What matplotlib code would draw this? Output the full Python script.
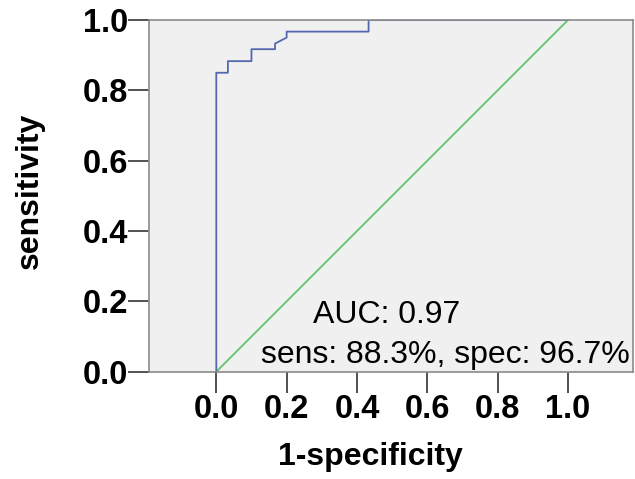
"""
ROC curve: sensitivity vs 1-specificity.
"""

import matplotlib.pyplot as plt

# ROC step points
fpr = [0.0, 0.0, 0.033, 0.033, 0.100, 0.100, 0.167, 0.167, 0.200, 0.200, 0.433, 0.433, 1.0]
tpr = [0.0, 0.850, 0.850, 0.883, 0.883, 0.917, 0.917, 0.933, 0.950, 0.967, 0.967, 1.0, 1.0]

ref_x = [0.0, 1.0]
ref_y = [0.0, 1.0]

ticks = [0.0, 0.2, 0.4, 0.6, 0.8, 1.0]
tick_labels = ["0.0", "0.2", "0.4", "0.6", "0.8", "1.0"]

auc_text = "AUC: 0.97"
cut_text = "sens: 88.3%, spec: 96.7%"


def main():

    plt.rcParams["font.family"] = ["Liberation Sans", "DejaVu Sans"]

    W, H = 635, 479
    fig = plt.figure(figsize=(W / 100, H / 100), dpi=100)

    left, right, top, bottom = 148.7, 633.0, 20.0, 371.7
    ax = fig.add_axes([left / W, 1 - bottom / H, (right - left) / W, (bottom - top) / H])

    ax.set_facecolor("#f0f0f0")

    ax.plot(ref_x, ref_y, color="#62c46e", linewidth=1.3)
    ax.plot(fpr, tpr, color="#5468b0", linewidth=1.3)

    ax.set_xlim(-0.1922, 1.1848)
    ax.set_ylim(0, 1)

    ax.set_xticks(ticks)
    ax.set_xticklabels(tick_labels)
    ax.set_yticks(ticks)
    ax.set_yticklabels(tick_labels)

    for lab in ax.get_xticklabels() + ax.get_yticklabels():
        lab.set_fontweight("bold")
        lab.set_fontsize(23.5)

    ax.tick_params(axis="both", direction="out", length=15, width=1.2, color="#333333")
    ax.tick_params(axis="x", pad=1)
    ax.tick_params(axis="y", pad=0)

    for s in ax.spines.values():
        s.set_color("#8a8a8a")
        s.set_linewidth(1.2)

    ax.text((387 - left) / (right - left), 1 - (315 - top) / (bottom - top),
            auc_text, transform=ax.transAxes, ha="center", va="center", fontsize=23)
    ax.text((630 - left) / (right - left), 1 - (355 - top) / (bottom - top),
            cut_text, transform=ax.transAxes, ha="right", va="center", fontsize=23)

    fig.text(370 / W, 1 - 457 / H, "1-specificity", ha="center", va="center",
             fontsize=23, fontweight="bold")
    fig.text(30 / W, 1 - 191 / H, "sensitivity", ha="center", va="center",
             fontsize=23, fontweight="bold", rotation=90)

    plt.savefig("out.png", dpi=100)


if __name__ == "__main__":
    main()
